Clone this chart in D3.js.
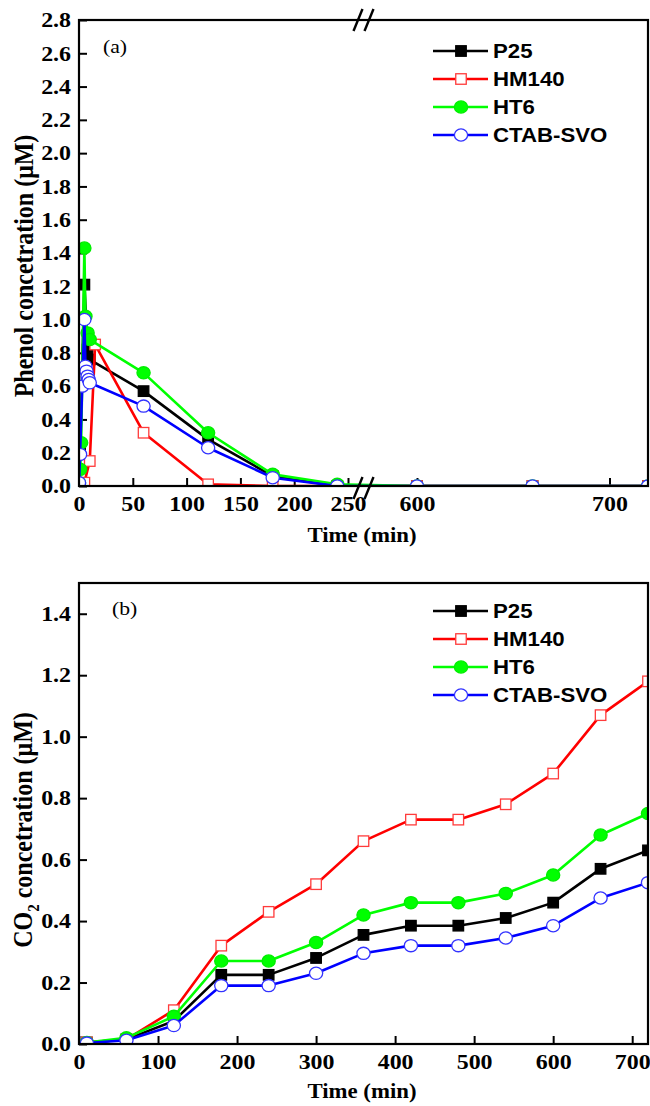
<!DOCTYPE html>
<html>
<head>
<meta charset="utf-8">
<script src="https://cdn.jsdelivr.net/npm/d3@7"></script>
<style>
  html, body { margin: 0; padding: 0; background: #fff; }
  svg { display: block; }
</style>
</head>
<body>
<svg id="chart" width="650" height="1106"></svg>
<script>
// ---------- DATA ----------
const seriesNames = ["P25", "HM140", "HT6", "CTAB-SVO"];

// Panel (a): phenol concentration (μM) vs time (min)
const p25PhenolT   = [0, 1, 5, 8, 10, 60, 120, 180, 240, 600, 660, 720];
const p25PhenolV   = [0.0, 0.2, 1.21, 0.82, 0.76, 0.57, 0.28, 0.06, 0, 0, 0, 0];
const hm140PhenolT = [0, 5, 10, 15, 60, 120, 180, 240, 600, 660, 720];
const hm140PhenolV = [0.0, 0.02, 0.15, 0.85, 0.32, 0.01, 0, 0, 0, 0, 0];
const ht6PhenolT   = [0, 1, 2, 5, 6, 8, 10, 60, 120, 180, 240, 600, 660, 720];
const ht6PhenolV   = [0.02, 0.1, 0.26, 1.43, 1.02, 0.92, 0.88, 0.68, 0.32, 0.07, 0.01, 0, 0, 0];
const ctabPhenolT  = [0, 1, 3, 5, 6, 7, 8, 9, 10, 60, 120, 180, 240, 600, 660, 720];
const ctabPhenolV  = [0.02, 0.19, 0.6, 1.0, 0.72, 0.69, 0.66, 0.64, 0.62, 0.48, 0.23, 0.05, 0, 0, 0, 0];

// Panel (b): CO2 concentration (μM) vs time (min)
const co2Times  = [10, 60, 120, 180, 240, 300, 360, 420, 480, 540, 600, 660, 720];
const p25Co2    = [0.005, 0.015, 0.075, 0.225, 0.225, 0.28, 0.355, 0.385, 0.385, 0.41, 0.46, 0.57, 0.63];
const hm140Co2  = [0.005, 0.015, 0.11, 0.32, 0.43, 0.52, 0.66, 0.73, 0.73, 0.78, 0.88, 1.07, 1.18];
const ht6Co2    = [0.005, 0.02, 0.09, 0.27, 0.27, 0.33, 0.42, 0.46, 0.46, 0.49, 0.55, 0.68, 0.75];
const ctabCo2   = [0.003, 0.012, 0.06, 0.19, 0.19, 0.23, 0.295, 0.32, 0.32, 0.345, 0.385, 0.475, 0.525];

// Tick values
const phenolXTicks = [0, 50, 100, 150, 200, 250, 600, 700];
const phenolYTicks = [0, 0.2, 0.4, 0.6, 0.8, 1.0, 1.2, 1.4, 1.6, 1.8, 2.0, 2.2, 2.4, 2.6, 2.8];
const co2XTicks = [0, 100, 200, 300, 400, 500, 600, 700];
const co2YTicks = [0, 0.2, 0.4, 0.6, 0.8, 1.0, 1.2, 1.4];

// ---------- STYLE ----------
const styles = [
  { color: "#000000", shape: "square", fill: "#000000", stroke: "#000000" },
  { color: "#ff0000", shape: "square", fill: "#ffffff", stroke: "#ff3b3b" },
  { color: "#00ff00", shape: "circle", fill: "#00ff00", stroke: "#00ee00" },
  { color: "#0000ff", shape: "circle", fill: "#ffffff", stroke: "#3333ff" }
];
const SX = 1.14; // horizontal stretch of the original raster
const serif = "'Liberation Serif', 'Times New Roman', serif";
const sans = "'Liberation Sans', Arial, sans-serif";

const svg = d3.select("#chart");

function drawMarker(g, shape, x, y, st) {
  if (shape === "square") {
    const s = 10.5;
    g.append("rect").attr("x", x - s / 2).attr("y", y - s / 2)
      .attr("width", s).attr("height", s)
      .attr("fill", st.fill).attr("stroke", st.stroke).attr("stroke-width", 1.3);
  } else {
    g.append("ellipse").attr("cx", x).attr("cy", y).attr("rx", 6.6).attr("ry", 6.1)
      .attr("fill", st.fill).attr("stroke", st.stroke).attr("stroke-width", 1.3);
  }
}

function stretchText(sel) {
  sel.each(function () {
    const t = d3.select(this);
    t.attr("transform", (t.attr("transform") || "") + ` scale(${SX},1)`);
  });
}

function panel(opt) {
  const { x, y, left, right, top, bottom, xTicks, yTicks, series, id } = opt;
  const g = svg.append("g");

  g.append("clipPath").attr("id", "clip" + id)
    .append("rect").attr("x", left).attr("y", top)
    .attr("width", right - left).attr("height", bottom - top);

  // Axes
  const xAxis = g.append("g").attr("transform", `translate(0,${bottom})`)
    .call(d3.axisBottom(x).tickValues(xTicks).tickFormat(d3.format("d"))
      .tickSizeInner(-8).tickSizeOuter(0).tickPadding(10));
  const yAxis = g.append("g").attr("transform", `translate(${left},0)`)
    .call(d3.axisLeft(y).tickValues(yTicks).tickFormat(d3.format(".1f"))
      .tickSizeInner(-8).tickSizeOuter(0).tickPadding(7));
  [xAxis, yAxis].forEach(a => {
    a.select(".domain").remove();
    a.selectAll(".tick line").attr("stroke", "#000").attr("stroke-width", 2);
    a.selectAll(".tick text").attr("fill", "#000")
      .style("font-family", serif).style("font-weight", "bold").style("font-size", "21px");
    stretchText(a.selectAll(".tick text"));
  });

  // Data
  const dg = g.append("g").attr("clip-path", `url(#clip${id})`);
  series.forEach((s, i) => {
    const st = styles[i];
    const pts = s.t.map((t, k) => [x(t), y(s.v[k])]);
    dg.append("path").attr("d", d3.line()(pts))
      .attr("fill", "none").attr("stroke", st.color).attr("stroke-width", 2.6)
      .attr("stroke-linejoin", "round");
    pts.forEach(p => drawMarker(dg, st.shape, p[0], p[1], st));
  });

  // Frame
  g.append("rect").attr("x", left).attr("y", top)
    .attr("width", right - left).attr("height", bottom - top)
    .attr("fill", "none").attr("stroke", "#000").attr("stroke-width", 2.2);

  // Legend
  const lg = g.append("g");
  seriesNames.forEach((name, i) => {
    const st = styles[i];
    const ly = opt.legendY + i * 28;
    lg.append("line").attr("x1", 433).attr("x2", 488).attr("y1", ly).attr("y2", ly)
      .attr("stroke", st.color).attr("stroke-width", 2.6);
    drawMarker(lg, st.shape, 461, ly, st);
    lg.append("text").attr("transform", `translate(493,${ly + 7}) scale(${SX},1)`)
      .style("font-family", sans).style("font-weight", "bold").style("font-size", "19.5px")
      .text(name);
  });
  return g;
}

// ---------- PANEL (a) ----------
const xa = d3.scaleLinear().domain([0, 250, 600, 720]).range([79, 348, 417, 648]);
const ya = d3.scaleLinear().domain([0, 2.8]).range([486, 20]);
const ga = panel({
  id: "a", x: xa, y: ya, left: 79, right: 648, top: 20, bottom: 486,
  xTicks: phenolXTicks, yTicks: phenolYTicks, legendY: 51,
  series: [
    { t: p25PhenolT, v: p25PhenolV },
    { t: hm140PhenolT, v: hm140PhenolV },
    { t: ht6PhenolT, v: ht6PhenolV },
    { t: ctabPhenolT, v: ctabPhenolV }
  ]
});
// Axis-break marks
[[20], [488]].forEach(([cy]) => {
  [358, 369].forEach(cx => {
    ga.append("line").attr("x1", cx - 4.5).attr("y1", cy + 11).attr("x2", cx + 4.5).attr("y2", cy - 11)
      .attr("stroke", "#000").attr("stroke-width", 2.4);
  });
});
ga.append("text").attr("transform", `translate(103,53) scale(${SX},1)`)
  .style("font-family", serif).style("font-size", "19px").text("(a)");
ga.append("text").attr("transform", `translate(362,542) scale(${SX},1)`).attr("text-anchor", "middle")
  .style("font-family", serif).style("font-weight", "bold").style("font-size", "20px").text("Time (min)");
ga.append("text").attr("transform", `translate(33,266) rotate(-90) scale(1,${SX})`).attr("text-anchor", "middle")
  .style("font-family", serif).style("font-weight", "bold").style("font-size", "24px")
  .text("Phenol concetration (μM)");

// ---------- PANEL (b) ----------
const xb = d3.scaleLinear().domain([0, 720]).range([79, 648]);
const yb = d3.scaleLinear().domain([0, 1.5]).range([1044, 583]);
const gb = panel({
  id: "b", x: xb, y: yb, left: 79, right: 648, top: 583, bottom: 1044,
  xTicks: co2XTicks, yTicks: co2YTicks, legendY: 611,
  series: [
    { t: co2Times, v: p25Co2 },
    { t: co2Times, v: hm140Co2 },
    { t: co2Times, v: ht6Co2 },
    { t: co2Times, v: ctabCo2 }
  ]
});
gb.append("text").attr("transform", `translate(112,615) scale(${SX},1)`)
  .style("font-family", serif).style("font-size", "19px").text("(b)");
gb.append("text").attr("transform", `translate(362,1098) scale(${SX},1)`).attr("text-anchor", "middle")
  .style("font-family", serif).style("font-weight", "bold").style("font-size", "20px").text("Time (min)");
const yt = gb.append("text").attr("transform", `translate(32,830) rotate(-90) scale(1,${SX})`)
  .attr("text-anchor", "middle")
  .style("font-family", serif).style("font-weight", "bold").style("font-size", "24px");
yt.append("tspan").text("CO");
yt.append("tspan").attr("dy", 6).style("font-size", "15px").text("2");
yt.append("tspan").attr("dy", -6).text(" concetration (μM)");
</script>
</body>
</html>
